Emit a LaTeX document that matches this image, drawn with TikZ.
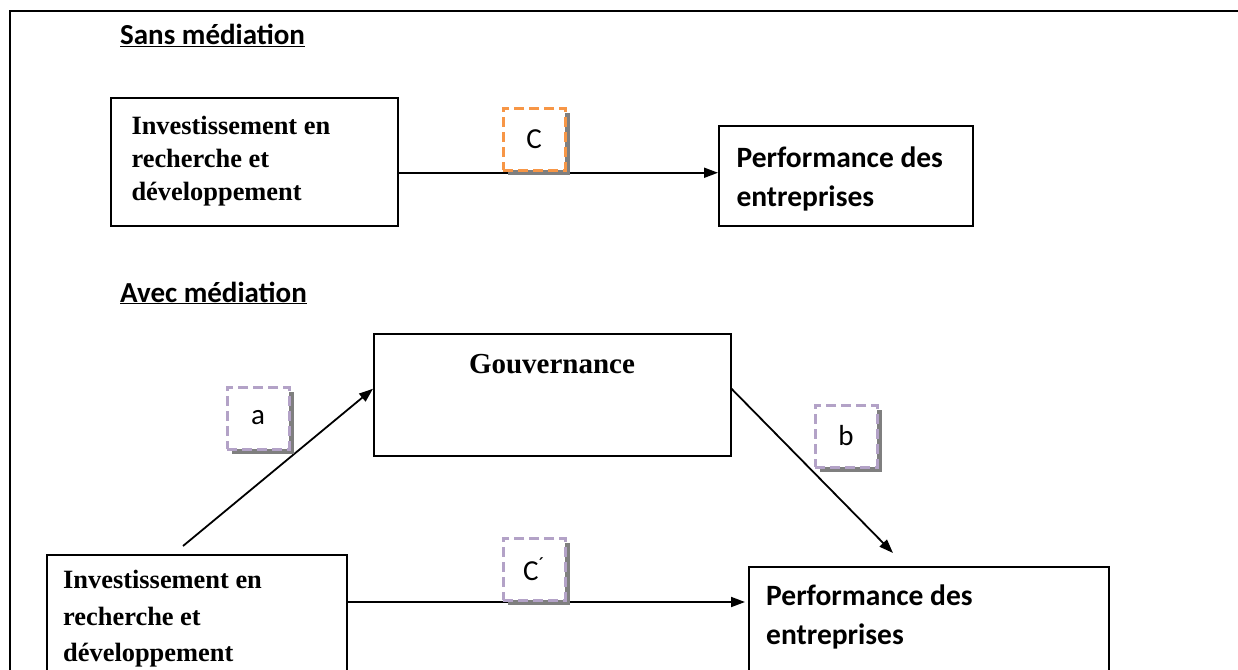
\documentclass[tikz,border=0pt]{standalone}
\usepackage{fontspec}
\setmainfont{Liberation Serif}
\newfontfamily\carlitofont{Carlito}
\usetikzlibrary{arrows.meta,shadows}
\definecolor{orangeC}{HTML}{F79646}
\definecolor{lavC}{HTML}{B3A2C7}
\definecolor{shadC}{HTML}{7F7F7F}
\tikzset{
  box/.style={draw=black,line width=1.5pt,fill=white,anchor=north west,inner sep=0pt},
  serifbold/.style={font=\fontsize{26.4}{33}\selectfont\bfseries,align=left},
  serifboldb/.style={font=\fontsize{26.4}{36.5}\selectfont\bfseries,align=left},
  sansbold/.style={font=\carlitofont\fontsize{29.5}{39}\selectfont\bfseries,align=left},
  head/.style={font=\carlitofont\fontsize{29}{34}\selectfont\bfseries,anchor=base west,inner sep=0pt},
  lab/.style={draw=#1,line width=3pt,dash pattern=on 10pt off 5pt,fill=white,
    minimum width=62pt,minimum height=62pt,inner sep=0pt,font=\carlitofont\fontsize{29}{32}\selectfont,
    drop shadow={shadow xshift=4.5pt,shadow yshift=-4.5pt,fill=shadC,opacity=1}},
  arr/.style={line width=1.8pt,-{Triangle[length=14pt,width=10pt]}}
}
\begin{document}
\begin{tikzpicture}[x=1pt,y=-1pt]
\useasboundingbox (0,0) rectangle (1238,669);
\clip (0,0) rectangle (1238,669);
% frame
\draw[line width=2.6pt] (10,700) -- (10,11) -- (1250,11);
% headings
\node[head] (h1) at (120,45) {\underline{Sans médiation}};
\node[head] (h2) at (120,302) {\underline{Avec médiation}};
% top diagram
\node[box,minimum width=287pt,minimum height=128pt] (b1) at (110,97) {};
\node[serifbold,anchor=west] (b1t) at (128,161) {Investissement en\\recherche et\\développement};
\node[box,minimum width=254pt,minimum height=100pt] (b2) at (718,125) {};
\node[sansbold,anchor=west] (b2t) at (733,179) {Performance des\\entreprises};
\draw[arr] ([yshift=-11pt]b1.east) -- ([yshift=3pt]b2.west);
\node[lab=orangeC] (lc) at (534,139) {C};
% bottom diagram
\node[box,minimum width=357pt,minimum height=122pt] (gov) at (373,333) {};
\node[font=\fontsize{29}{34}\selectfont\bfseries,anchor=center] (govt) at (552,364) {Gouvernance};
\node[box,minimum width=300pt,minimum height=200pt] (b3) at (46,554) {};
\node[serifboldb,anchor=north west,inner sep=0pt] (b3t) at (63,570) {Investissement en\\recherche et\\développement};
\node[box,minimum width=360pt,minimum height=200pt] (b4) at (748,566) {};
\node[sansbold,anchor=north west,inner sep=0pt] (b4t) at (766,585) {Performance des\\entreprises};
\coordinate (a0) at (183,546);
\coordinate (b1end) at (893,553);
\draw[arr] (a0) -- ([yshift=6pt]gov.west);
\draw[arr] ([yshift=6pt]gov.east) -- (b1end);
\draw[arr] ([yshift=-48pt]b3.north east) -- ([yshift=-36pt,xshift=-3pt]b4.north west);
\node[lab=lavC] (la) at (258,418) {a};
\node[lab=lavC] (lb) at (846,436) {b};
\node[lab=lavC] (lcp) at (534,569) {C\textsuperscript{´}};
\end{tikzpicture}
\end{document}
